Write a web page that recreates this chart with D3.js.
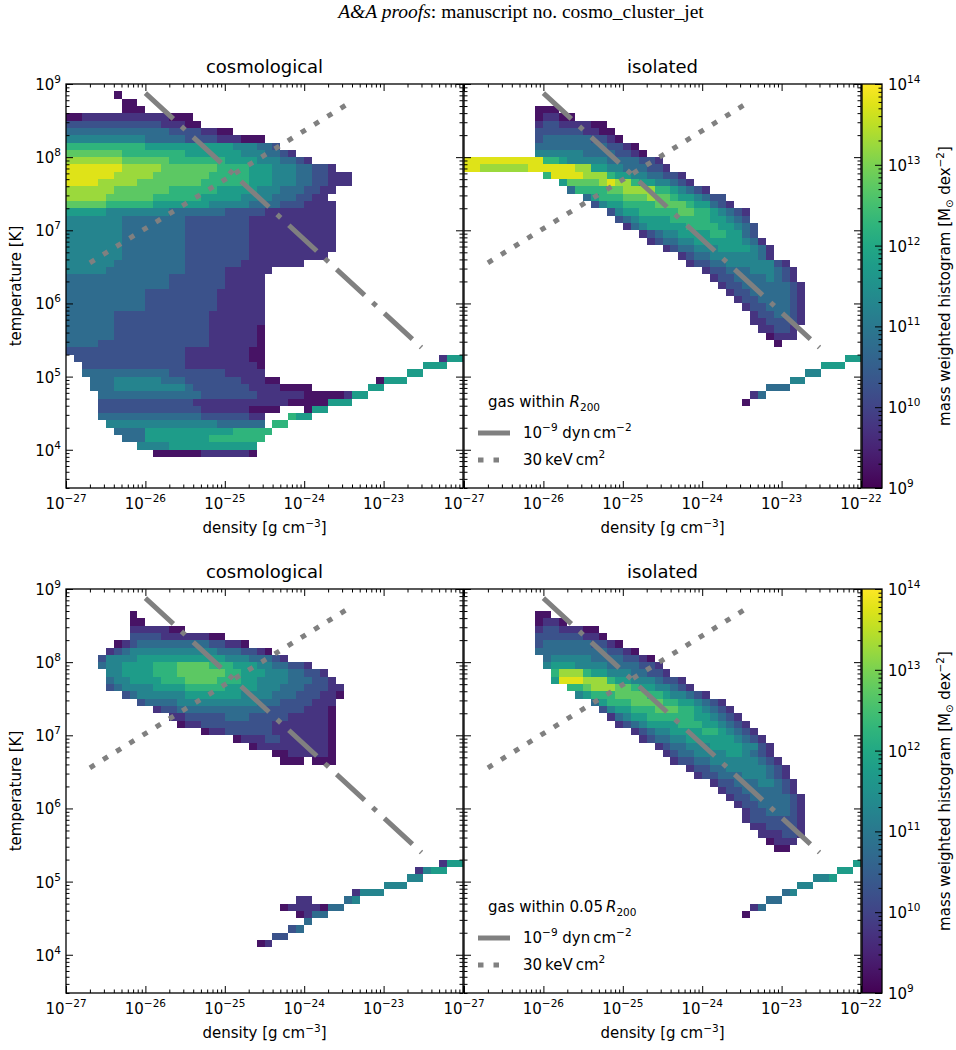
<!DOCTYPE html>
<html>
<head>
<meta charset="utf-8">
<title>phase diagrams</title>
<script src="https://cdn.jsdelivr.net/npm/d3@7"></script>
<style>
    body { margin: 0; background: #ffffff; }
    svg { display: block; font-family: 'DejaVu Sans', sans-serif; }
    .cell { shape-rendering: crispEdges; }
    .spine { fill: none; stroke: #000; stroke-width: 1.3; }
    .tick line { stroke: #000; stroke-width: 1; }
    text { white-space: pre; fill: #000; }
</style>
</head>
<body>
<div id="chart"></div>
<script>

// Axis ticks (log10 of the values)
var densityTicks = [ -27, -26, -25, -24, -23, -22 ];
var temperatureTicks = [ 4, 5, 6, 7, 8, 9 ];
var massTicks = [ 9, 10, 11, 12, 13, 14 ];

var panelTitles = [ 'cosmological', 'isolated' ];
var legendTitles = [ 'gas within ', 'gas within 0.05\u2009' ];

// Histogram bins: 0.1 dex, columns start at log rho = -27, rows start at log T = 9 and go down
var binSize = 0.1;
// colour level (0-9) of a cell -> log10 of the mass per bin
var levelLogMass = [ 9.25, 9.75, 10.25, 10.75, 11.25, 11.75, 12.25, 12.75, 13.25, 13.75 ];

// Rows of each histogram: [ row, first column, levels ]
var cosmoR200 = [
    [ 1, 6, '0' ], [ 2, 7, '00' ], [ 3, 7, '000' ],
    [ 4, 0, '0011111111111000' ],
    [ 5, 0, '22222222222211100' ],
    [ 6, 0, '333333333333322221100' ],
    [ 7, 0, '4444444444333332222111000' ],
    [ 8, 0, '666666666655555555555444332' ],
    [ 9, 0, '77777776666666655555554443321' ],
    [ 10, 0, '8888888777777666666655554443321' ],
    [ 11, 0, '9999999888887777777666655544433221' ],
    [ 12, 0, '999999888887777777666665554443322111' ],
    [ 13, 0, '999988888777777776666665554443322111' ],
    [ 14, 0, '8888887777777666666555554443332211' ],
    [ 15, 0, '888887777776666665555544443332211' ],
    [ 16, 0, '7777766666655555554444433332221111' ],
    [ 17, 0, '5555544444444333333322222111111111' ],
    [ 18, 0, '4444444333333332222222211111111111' ],
    [ 19, 0, '4444444333333332222222211111111111' ],
    [ 20, 0, '4444444333333332222222211111111111' ],
    [ 21, 0, '4444444333333332222222211111111111' ],
    [ 22, 0, '4444444333333332222222211111111111' ],
    [ 23, 0, '444444433333333222222221111111111' ],
    [ 24, 0, '444444333333333222222211111111' ],
    [ 25, 0, '44444333333333322222111111' ],
    [ 26, 0, '3333333333333222222211111' ],
    [ 27, 0, '3333333333333222222211111' ],
    [ 28, 0, '3333333333222222222111111' ],
    [ 29, 0, '3333333333222222222111111' ],
    [ 30, 0, '3333333333222222222111111' ],
    [ 31, 0, '3333332222222222221111111' ],
    [ 32, 0, '3333332222222222221111111' ],
    [ 33, 0, '3333332222222222221111110' ],
    [ 34, 0, '3333332222222222221111110' ],
    [ 35, 0, '3333222222222222221111110' ],
    [ 36, 0, '2222222222222221111111100' ],
    [ 37, 1, '222222222222221111111100' ],
    [ 38, 2, '22222222222221111111110' ],
    [ 39, 2, '33333333333222222211111' ],
    [ 40, 3, '333444444333222222211100' ],
    [ 41, 3, '3334444444443222222211110000' ],
    [ 42, 4, '3333333333333222222211111100000' ],
    [ 43, 4, '2222222222221111111111110000000' ],
    [ 44, 4, '22222222222221111110000' ],
    [ 45, 4, '333333333333322222211' ],
    [ 46, 5, '44444444444444333333' ],
    [ 47, 6, '33335555555555566666' ],
    [ 48, 7, '333555555556666666' ],
    [ 49, 9, '444455555555555' ],
    [ 50, 11, '0000001111110' ],
    // cold gas sequence
    [ 46, 26, '66' ], [ 45, 28, '655' ], [ 44, 30, '055' ], [ 43, 33, '555' ],
    [ 42, 35, '155' ], [ 41, 38, '55' ], [ 40, 39, '0555' ], [ 39, 43, '55' ],
    [ 38, 45, '555' ], [ 37, 47, '155' ]
];

var isoR200 = [
    [ 3, 9, '000' ],
    [ 4, 9, '01100' ],
    [ 5, 9, '122111100' ],
    [ 6, 9, '2222221100' ],
    [ 7, 9, '23333332210' ],
    [ 8, 9, '3333333332210' ],
    [ 9, 9, '44444433332210' ],
    [ 10, 0, '9999999999665444443333221' ],
    [ 11, 0, '99888888999999885544333221' ],
    [ 12, 10, '699998886554433221' ],
    [ 13, 12, '57777898865544321' ],
    [ 14, 13, '366667788886654321' ],
    [ 15, 15, '356667778776554322' ],
    [ 16, 16, '245566667777655321' ],
    [ 17, 18, '245566666776654321' ],
    [ 18, 19, '23455556666655432' ],
    [ 19, 20, '13455555666655432' ],
    [ 20, 22, '123445555665532' ],
    [ 21, 23, '123344555555431' ],
    [ 22, 25, '12334445555431' ],
    [ 23, 27, '123344444431' ],
    [ 24, 28, '1223344444421' ],
    [ 25, 30, '122333444321' ],
    [ 26, 31, '12233334321' ],
    [ 27, 32, '12233333321' ],
    [ 28, 33, '1223333321' ],
    [ 29, 34, '122333321' ],
    [ 30, 35, '12233321' ],
    [ 31, 36, '1223321' ],
    [ 32, 36, '1122221' ],
    [ 33, 37, '11221' ],
    [ 34, 38, '0111' ],
    [ 35, 39, '0' ],
    // cold gas sequence
    [ 43, 35, '0' ], [ 42, 36, '13' ], [ 41, 38, '333' ], [ 40, 41, '44' ],
    [ 39, 43, '44' ], [ 38, 45, '555' ], [ 37, 48, '55' ]
];

var cosmoCore = [
    [ 3, 8, '0' ],
    [ 4, 8, '00' ],
    [ 5, 8, '1111100' ],
    [ 6, 8, '222211111100' ],
    [ 7, 6, '01233333333322110' ],
    [ 8, 5, '123444444444443332210' ],
    [ 9, 4, '244445555555555544433321' ],
    [ 10, 4, '344555566677776665554433221' ],
    [ 11, 5, '4455556667777776655544433221' ],
    [ 12, 5, '34455556667777666554444333221' ],
    [ 13, 5, '234444555566666555544433322211' ],
    [ 14, 7, '2344444455555554444333222110' ],
    [ 15, 9, '2333344444444443332222111' ],
    [ 16, 11, '12233333333333222221110' ],
    [ 17, 13, '112222233322222111110' ],
    [ 18, 14, '01122222222211111110' ],
    [ 19, 17, '01122222211111110' ],
    [ 20, 21, '0111221111110' ],
    [ 21, 23, '01111111110' ],
    [ 22, 26, '00111110' ],
    [ 23, 27, '000.000' ],
    // small cool clump
    [ 42, 29, '11' ], [ 43, 27, '011110' ], [ 44, 29, '01' ],
    // cold gas sequence
    [ 48, 24, '01' ], [ 47, 26, '22' ], [ 46, 28, '23' ], [ 45, 30, '3' ],
    [ 44, 31, '33' ], [ 43, 33, '33' ], [ 42, 35, '34' ], [ 41, 36, '1444' ],
    [ 40, 40, '444' ], [ 39, 43, '44' ], [ 38, 44, '1455' ], [ 37, 47, '155' ]
];

var isoCore = [
    [ 3, 9, '00' ],
    [ 4, 9, '0110' ],
    [ 5, 9, '12211100' ],
    [ 6, 9, '222222110' ],
    [ 7, 9, '23333332210' ],
    [ 8, 9, '3333333332210' ],
    [ 9, 10, '34444433332210' ],
    [ 10, 10, '455544443333221' ],
    [ 11, 11, '688865544433221' ],
    [ 12, 11, '59998886554443221' ],
    [ 13, 13, '6678887765544321' ],
    [ 14, 14, '45666777766544321' ],
    [ 15, 16, '35666777766554321' ],
    [ 16, 17, '24556667776654321' ],
    [ 17, 18, '13455666666554321' ],
    [ 18, 19, '12345555666554321' ],
    [ 19, 21, '1234455556654321' ],
    [ 20, 22, '1233445555554321' ],
    [ 21, 24, '123344455554421' ],
    [ 22, 25, '12334444554321' ],
    [ 23, 26, '12233444444321' ],
    [ 24, 28, '1223344444321' ],
    [ 25, 29, '122333444321' ],
    [ 26, 31, '12233344321' ],
    [ 27, 32, '1223333321' ],
    [ 28, 33, '1223333321' ],
    [ 29, 34, '122333321' ],
    [ 30, 35, '12233321' ],
    [ 31, 35, '12222221' ],
    [ 32, 36, '1122221' ],
    [ 33, 37, '111221' ],
    [ 34, 38, '0111' ],
    [ 35, 39, '00' ],
    // cold gas sequence
    [ 44, 35, '0' ], [ 43, 36, '13' ], [ 42, 38, '33' ], [ 41, 40, '34' ],
    [ 40, 42, '44' ], [ 39, 44, '445' ], [ 38, 47, '55' ], [ 37, 49, '5' ]
];

// Reference lines: constant pressure 1e-9 dyn cm^-2 and constant entropy 30 keV cm^2
var pressureRho = [ 1e-26, 3e-23 ];
var pressureT = [ 7.5e8, 2.5e5 ];
var entropyRho = [ 2e-27, 4e-24 ];
var entropyT = [ 3.6e6, 5.8e8 ];


var color = d3.scaleSequentialLog( d3.interpolateViridis ).domain( [ 1e9, 1e14 ] );

function rich_text ( text, parts ) {

    var shift = 0;
    parts.forEach( function ( p ) {
        var span = text.append( 'tspan' ).text( p.t );
        var s = p.dy || 0;
        if ( s !== shift ) { span.attr( 'dy', s - shift ); }
        shift = s;
        if ( p.size ) { span.style( 'font-size', p.size + 'px' ); }
        if ( p.italic ) { span.style( 'font-style', 'italic' ); }
    });

}

function power_text ( text, p ) {
    rich_text( text, [ { t: '10' }, { t: p < 0 ? '\u2212' + ( -p ) : '' + p, dy: -7, size: 10.5 } ] );
}

function minor_values ( lo, hi, first, last ) {
    var v = [];
    for ( var p = first; p <= last; ++p ) {
        for ( var m = 2; m < 10; ++m ) {
            var x = m * Math.pow( 10, p );
            if ( x >= lo && x <= hi ) { v.push( x ); }
        }
    }
    return v;
}

function expand_cells ( rows ) {
    var grid = new Map();
    rows.forEach( function ( row ) {
        for ( var k = 0; k < row[2].length; ++k ) {
            if ( row[2][k] === '.' ) { continue; }
            grid.set( row[0] * 100 + row[1] + k, { r: row[0], c: row[1] + k, level: +row[2][k] } );
        }
    });
    return Array.from( grid.values() );
}


function Phase_Plot ( svg, left, top, w, h, id ) {

    // Scoping
    var self = this;

    this.x = d3.scaleLog().domain( [ 1e-27, 1e-22 ] ).range( [ 0, w ] );
    this.y = d3.scaleLog().domain( [ 3e3, 1e9 ] ).range( [ h, 0 ] );

    this.g = svg.append( 'g' )
                .attr( 'transform', 'translate(' + left + ',' + top + ')' );

    this.g.append( 'clipPath' )
        .attr( 'id', id )
        .append( 'rect' )
        .attr( 'width', w )
        .attr( 'height', h );

    this.plot = this.g.append( 'g' ).attr( 'clip-path', 'url(#' + id + ')' );

    this.plot_histogram = function ( rows ) {

        var px = function ( c ) { return Math.round( self.x( Math.pow( 10, -27 + binSize * c ) ) ); };
        var py = function ( r ) { return Math.round( self.y( Math.pow( 10, 9 - binSize * r ) ) ); };

        self.plot.selectAll( 'rect.cell' )
            .data( expand_cells( rows ) )
            .enter().append( 'rect' )
            .attr( 'class', 'cell' )
            .attr( 'x', function ( d ) { return px( d.c ); } )
            .attr( 'y', function ( d ) { return py( d.r ); } )
            .attr( 'width', function ( d ) { return px( d.c + 1 ) - px( d.c ); } )
            .attr( 'height', function ( d ) { return py( d.r + 1 ) - py( d.r ); } )
            .attr( 'fill', function ( d ) { return color( Math.pow( 10, levelLogMass[ d.level ] ) ); } );

    };

    this.plot_line = function ( rhos, temps, dash ) {

        var line = d3.line()
                     .x( function ( d ) { return self.x( d[0] ); } )
                     .y( function ( d ) { return self.y( d[1] ); } );

        self.plot.append( 'path' )
            .datum( d3.zip( rhos, temps ) )
            .attr( 'd', line )
            .attr( 'fill', 'none' )
            .attr( 'stroke', '#808080' )
            .attr( 'stroke-width', 5 )
            .attr( 'stroke-dasharray', dash );

    };

    this.add_axes = function ( xLabels, showY ) {

        var xMajor = densityTicks.map( function ( p ) { return Math.pow( 10, p ); } );
        var xMinor = minor_values( 1e-27, 1e-22, -27, -23 );
        var yMajor = temperatureTicks.map( function ( p ) { return Math.pow( 10, p ); } );
        var yMinor = minor_values( 3e3, 1e9, 3, 8 );

        var ticks = function ( axis, scale, values, size, transform ) {
            self.g.append( 'g' )
                .attr( 'transform', transform )
                .call( axis( scale ).tickValues( values ).tickSize( -size ).tickFormat( '' ) )
                .call( function ( a ) { a.select( '.domain' ).remove(); } );
        };

        [ [ xMajor, 7 ], [ xMinor, 3.5 ] ].forEach( function ( t ) {
            ticks( d3.axisBottom, self.x, t[0], t[1], 'translate(0,' + h + ')' );
            ticks( d3.axisTop, self.x, t[0], t[1], 'translate(0,0)' );
        });
        [ [ yMajor, 7 ], [ yMinor, 3.5 ] ].forEach( function ( t ) {
            ticks( d3.axisLeft, self.y, t[0], t[1], 'translate(0,0)' );
            ticks( d3.axisRight, self.y, t[0], t[1], 'translate(' + w + ',0)' );
        });

        self.g.append( 'rect' )
            .attr( 'class', 'spine' )
            .attr( 'width', w )
            .attr( 'height', h );

        xLabels.forEach( function ( p ) {
            var t = self.g.append( 'text' )
                        .attr( 'x', self.x( Math.pow( 10, p ) ) )
                        .attr( 'y', h + 21 )
                        .attr( 'text-anchor', 'middle' )
                        .style( 'font-size', '15px' );
            power_text( t, p );
        });

        var xl = self.g.append( 'text' )
                     .attr( 'x', w / 2 )
                     .attr( 'y', h + 45 )
                     .attr( 'text-anchor', 'middle' )
                     .style( 'font-size', '15px' );
        rich_text( xl, [ { t: 'density [g cm' }, { t: '\u22123', dy: -6, size: 10.5 }, { t: ']' } ] );

        if ( showY ) {

            temperatureTicks.forEach( function ( p ) {
                var t = self.g.append( 'text' )
                            .attr( 'x', -5 )
                            .attr( 'y', self.y( Math.pow( 10, p ) ) + 6 )
                            .attr( 'text-anchor', 'end' )
                            .style( 'font-size', '15px' );
                power_text( t, p );
            });

            self.g.append( 'text' )
                .attr( 'transform', 'translate(' + ( -45 ) + ',' + ( h / 2 ) + ') rotate(-90)' )
                .attr( 'text-anchor', 'middle' )
                .style( 'font-size', '15px' )
                .text( 'temperature [K]' );

        }

    };

    this.set_title = function ( title ) {

        self.g.append( 'text' )
            .attr( 'x', w / 2 )
            .attr( 'y', -11 )
            .attr( 'text-anchor', 'middle' )
            .style( 'font-size', '18px' )
            .text( title );

    };

    this.add_legend = function ( prefix ) {

        var title = self.g.append( 'text' )
                        .attr( 'x', 24 )
                        .attr( 'y', h - 81 )
                        .style( 'font-size', '15px' );
        rich_text( title, [ { t: prefix }, { t: 'R', italic: true }, { t: '200', dy: 4, size: 10.5 } ] );

        var rows = [
            { dash: null, y: h - 50, parts: [ { t: '10' }, { t: '\u22129', dy: -7, size: 10.5 }, { t: ' dyn\u2009cm' }, { t: '\u22122', dy: -7, size: 10.5 } ] },
            { dash: '5.5,10', y: h - 23, parts: [ { t: '30\u2009keV\u2009cm' }, { t: '2', dy: -7, size: 10.5 } ] }
        ];

        rows.forEach( function ( r ) {
            self.g.append( 'line' )
                .attr( 'x1', 14 )
                .attr( 'x2', r.dash ? 42 : 46 )
                .attr( 'y1', r.y - 5 )
                .attr( 'y2', r.y - 5 )
                .attr( 'stroke', '#808080' )
                .attr( 'stroke-width', 5 )
                .attr( 'stroke-dasharray', r.dash );
            var t = self.g.append( 'text' )
                        .attr( 'x', 59 )
                        .attr( 'y', r.y )
                        .style( 'font-size', '15px' );
            rich_text( t, r.parts );
        });

    };

}


function Colorbar ( svg, left, top, w, h, id ) {

    var self = this;

    this.y = d3.scaleLog().domain( [ 1e9, 1e14 ] ).range( [ h, 0 ] );

    this.g = svg.append( 'g' )
                .attr( 'transform', 'translate(' + left + ',' + top + ')' );

    var grad = this.g.append( 'linearGradient' )
                   .attr( 'id', id )
                   .attr( 'x1', 0 ).attr( 'y1', 1 )
                   .attr( 'x2', 0 ).attr( 'y2', 0 );

    grad.selectAll( 'stop' )
        .data( d3.range( 0, 1.0001, 0.05 ) )
        .enter().append( 'stop' )
        .attr( 'offset', function ( d ) { return d; } )
        .attr( 'stop-color', function ( d ) { return d3.interpolateViridis( d ); } );

    this.g.append( 'rect' )
        .attr( 'width', w )
        .attr( 'height', h )
        .attr( 'fill', 'url(#' + id + ')' );

    var major = massTicks.map( function ( p ) { return Math.pow( 10, p ); } );
    var minor = minor_values( 1e9, 1e14, 9, 13 );

    [ [ major, 7 ], [ minor, 3.5 ] ].forEach( function ( t ) {
        self.g.append( 'g' )
            .attr( 'transform', 'translate(' + w + ',0)' )
            .call( d3.axisRight( self.y ).tickValues( t[0] ).tickSize( -t[1] ).tickFormat( '' ) )
            .call( function ( a ) { a.select( '.domain' ).remove(); } );
    });

    this.g.append( 'rect' )
        .attr( 'class', 'spine' )
        .attr( 'width', w )
        .attr( 'height', h );

    massTicks.forEach( function ( p ) {
        var t = self.g.append( 'text' )
                    .attr( 'x', w + 6 )
                    .attr( 'y', self.y( Math.pow( 10, p ) ) + 6 )
                    .style( 'font-size', '15px' );
        power_text( t, p );
    });

    var label = this.g.append( 'text' )
                    .attr( 'transform', 'translate(' + ( w + 68 ) + ',' + ( h / 2 ) + ') rotate(-90)' )
                    .attr( 'text-anchor', 'middle' )
                    .style( 'font-size', '15px' );
    rich_text( label, [ { t: 'mass weighted histogram [M' }, { t: '\u2299', dy: 3, size: 10 },
                        { t: ' dex' }, { t: '\u22122', dy: -6, size: 10.5 }, { t: ']' } ] );

}


var svg = d3.select( '#chart' )
            .append( 'svg' )
            .attr( 'width', 956 )
            .attr( 'height', 1050 );

var header = svg.append( 'text' )
                .attr( 'x', 521 )
                .attr( 'y', 18 )
                .attr( 'text-anchor', 'middle' )
                .style( 'font-family', "'Liberation Serif', 'Times New Roman', serif" )
                .style( 'font-size', '19.5px' );
rich_text( header, [ { t: 'A&A proofs', italic: true }, { t: ': manuscript no. cosmo_cluster_jet' } ] );

var panelW = 397, panelH = 404;
var panelLeft = [ 66, 464 ];
var panelTop = [ 84, 589 ];
var histograms = [ [ cosmoR200, isoR200 ], [ cosmoCore, isoCore ] ];

panelTop.forEach( function ( top, row ) {

    panelLeft.forEach( function ( left, col ) {

        var plot = new Phase_Plot( svg, left, top, panelW, panelH, 'clip' + row + col );
        plot.plot_histogram( histograms[row][col] );
        plot.plot_line( pressureRho, pressureT, '38,11,5,11' );
        plot.plot_line( entropyRho, entropyT, '5.5,10' );
        plot.add_axes( col === 0 ? densityTicks.slice( 0, 5 ) : densityTicks, col === 0 );
        plot.set_title( panelTitles[col] );
        if ( col === 1 ) { plot.add_legend( legendTitles[row] ); }

    });

    new Colorbar( svg, 862, top, 20, panelH, 'cbar' + row );

});

</script>
</body>
</html>
